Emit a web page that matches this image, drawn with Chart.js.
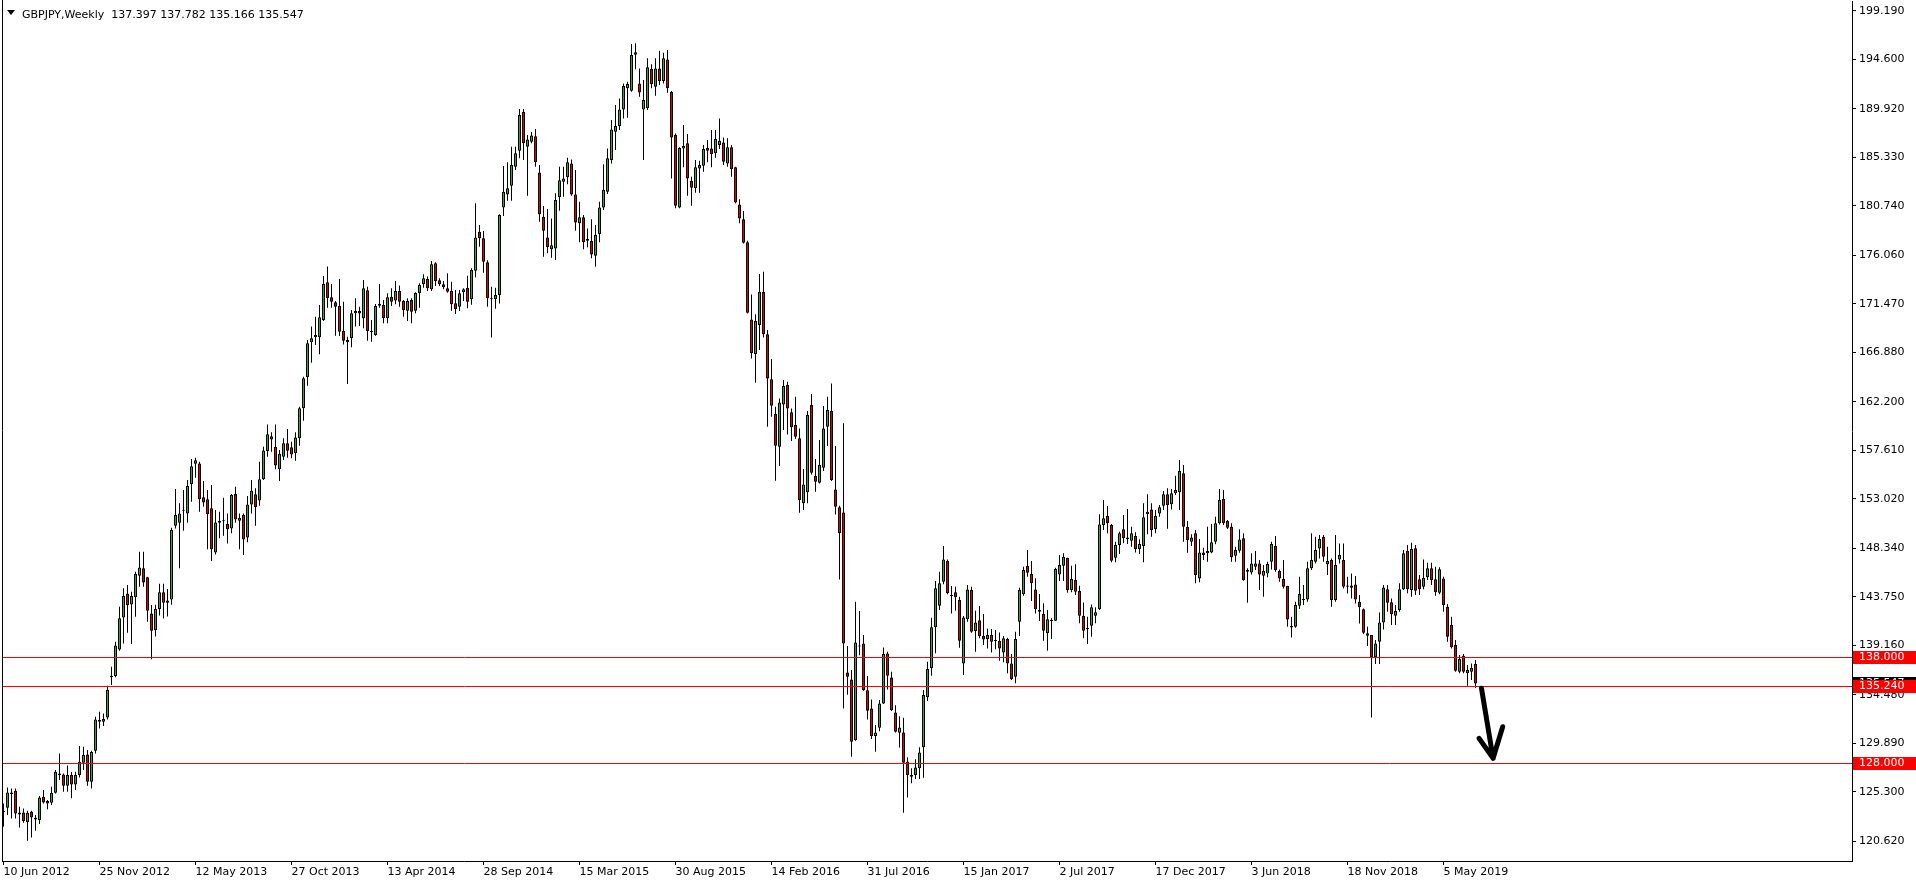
<!DOCTYPE html>
<html>
<head>
<meta charset="utf-8">
<title>GBPJPY, Weekly</title>
<script src="https://cdn.jsdelivr.net/npm/chart.js@4.4.1/dist/chart.umd.min.js"></script>
<style>
  html, body { margin: 0; padding: 0; background: #fff; }
  #wrap { width: 1916px; height: 884px; }
</style>
</head>
<body>
<div id="wrap"><canvas id="chart" width="1916" height="884"></canvas></div>
<script>
var symbol = 'GBPJPY';
var period = 'Weekly';

// weekly candles, first one is the week of 10 Jun 2012
var opens = [
  123.5, 123.8, 125.25, 125.41, 123.36, 123.36, 122.42, 123.42, 122.86, 122.64,
  124.84, 124.43, 124.28, 125.22, 126.89, 126.96, 125.89, 126.89, 126.01, 126.89,
  128.06, 128.85, 126.26, 129.2, 132.1, 131.94, 132.35, 136.14, 136.26, 138.78,
  141.81, 144.08, 143.04, 143.71, 145.76, 146.45, 145.6, 142.19, 140.6, 142.6,
  144.2, 143.2, 143.5, 150.49, 150.77, 151.9, 151.65, 154.4, 156.35, 156.38,
  153.17, 152.98, 152.13, 147.96, 150.77, 150.9, 150.64, 150.23, 153.48, 150.96,
  151.5, 149.38, 152.5, 153.45, 152.88, 154.87, 157.55, 158.94, 157.96, 155.82,
  157.02, 158.28, 157.9, 157.33, 158.75, 161.59, 164.52, 167.83, 168.31, 168.31,
  169.95, 173.51, 172.09, 171.62, 171.27, 168.9, 167.83, 168.21, 170.58, 170.8,
  170.1, 172.75, 168.9, 168.53, 171.3, 171.37, 170.1, 172.15, 171.78, 172.69,
  171.74, 170.83, 171.84, 170.83, 172.47, 173.32, 173.83, 172.85, 175.31, 173.7,
  173.32, 172.94, 172.69, 171.52, 171.21, 172.56, 173.0, 171.9, 174.61, 178.3,
  177.67, 175.4, 172.0, 171.9, 172.3, 180.6, 181.83, 182.65, 184.45, 185.96,
  189.62, 186.34, 186.81, 187.32, 183.91, 179.72, 177.76, 176.63, 176.72, 181.55,
  183.03, 183.44, 184.76, 181.83, 179.09, 179.66, 177.6, 177.42, 176.03, 178.08,
  180.6, 182.08, 185.08, 187.76, 188.3, 189.87, 191.86, 191.64, 195.27, 192.33,
  189.87, 189.97, 193.69, 192.02, 193.75, 192.55, 194.6, 191.51, 187.45, 180.6,
  186.18, 186.66, 183.09, 182.4, 184.29, 184.54, 186.21, 186.18, 185.71, 186.5,
  186.75, 184.76, 186.28, 184.39, 180.88, 179.47, 177.29, 170.0, 166.72, 169.47,
  172.6, 168.6, 164.33, 161.05, 157.96, 161.96, 163.79, 161.21, 160.01, 158.75,
  152.6, 153.64, 161.9, 155.18, 154.55, 155.97, 159.85, 161.33, 153.92, 152.22,
  151.74, 136.6, 135.94, 130.2, 139.15, 139.35, 134.93, 133.2, 130.58, 131.37,
  133.67, 138.4, 136.13, 132.82, 130.9, 130.93, 128.16, 126.9, 126.9, 127.53,
  129.52, 134.25, 136.99, 140.87, 142.92, 145.19, 147.18, 143.93, 144.18, 143.46,
  137.46, 141.63, 144.4, 140.52, 141.53, 140.05, 139.76, 140.14, 139.67, 139.57,
  138.5, 139.76, 137.46, 136.2, 141.4, 143.99, 146.67, 145.92, 144.46, 142.51,
  142.13, 140.3, 141.47, 141.5, 145.88, 146.7, 147.46, 144.4, 145.35, 144.31,
  141.94, 140.68, 141.03, 141.97, 142.57, 150.55, 151.4, 150.55, 147.46, 148.66,
  150.14, 149.38, 149.07, 149.51, 148.28, 148.56, 151.59, 152.03, 150.14, 151.65,
  152.38, 153.45, 152.51, 153.55, 153.64, 155.44, 150.39, 148.97, 149.76, 145.5,
  147.96, 147.87, 147.96, 148.97, 150.71, 153.01, 150.93, 150.39, 147.65, 148.12,
  149.29, 146.13, 146.07, 146.6, 146.92, 145.75, 145.97, 147.08, 148.56, 146.19,
  145.44, 144.77, 140.99, 140.93, 142.91, 143.45, 143.51, 146.45, 147.08, 148.34,
  149.44, 146.83, 147.24, 143.45, 147.3, 147.24, 144.84, 144.84, 144.93, 143.29,
  142.57, 140.3, 140.14, 138.03, 139.51, 141.34, 144.47, 143.24, 141.97, 142.51,
  144.47, 148.12, 144.4, 148.35, 145.41, 144.72, 145.6, 146.45, 145.41, 144.15,
  145.5, 142.83, 141.09, 139.2, 136.68, 138.19, 136.52, 136.68, 137.397
];
var highs = [
  124.2, 125.73, 125.63, 125.63, 123.9, 123.74, 123.52, 123.52, 123.11, 124.91,
  125.48, 124.53, 125.79, 127.37, 128.94, 127.05, 127.81, 127.18, 127.21, 129.64,
  129.57, 129.26, 129.2, 132.41, 132.89, 132.73, 135.35, 137.14, 139.51, 142.82,
  144.56, 144.87, 144.24, 146.13, 148.03, 148.03, 145.66, 142.98, 143.0, 145.0,
  145.0, 144.5, 150.3, 153.96, 152.6, 153.86, 154.81, 156.79, 156.92, 156.54,
  154.71, 153.86, 154.33, 151.97, 151.81, 153.13, 151.65, 153.48, 154.18, 151.65,
  151.65, 153.29, 154.81, 154.02, 156.54, 157.96, 160.07, 159.32, 160.07, 157.65,
  158.75, 159.63, 158.43, 159.32, 161.75, 164.58, 168.05, 169.32, 170.26, 171.37,
  174.11, 175.0, 173.35, 171.74, 173.83, 171.68, 168.37, 170.89, 172.0, 171.21,
  173.73, 173.1, 169.95, 171.46, 173.35, 171.84, 172.47, 172.94, 173.64, 173.2,
  171.84, 172.0, 172.0, 172.56, 173.42, 174.27, 174.05, 175.53, 175.4, 173.89,
  173.64, 174.36, 173.57, 172.79, 172.79, 172.94, 174.14, 174.85, 180.98, 178.93,
  178.36, 175.6, 173.1, 173.0, 179.95, 184.51, 184.86, 186.34, 186.34, 189.91,
  189.91, 187.45, 187.73, 188.01, 184.61, 180.73, 180.44, 179.56, 181.93, 184.45,
  184.45, 185.3, 185.14, 184.13, 181.14, 179.88, 178.61, 179.47, 178.93, 181.14,
  184.67, 186.18, 188.86, 190.28, 190.91, 192.33, 192.49, 196.06, 196.12, 193.75,
  192.65, 194.7, 194.13, 194.7, 195.42, 195.24, 195.49, 191.61, 187.6, 186.28,
  188.39, 187.54, 183.5, 185.08, 185.02, 186.5, 186.97, 187.92, 187.92, 189.02,
  187.22, 187.13, 186.5, 184.45, 181.36, 180.25, 177.45, 172.37, 170.48, 174.29,
  174.5, 169.0, 166.25, 161.74, 162.53, 164.27, 164.11, 161.58, 162.69, 159.69,
  155.84, 161.33, 162.94, 156.79, 158.59, 161.8, 162.69, 163.95, 158.02, 152.37,
  160.17, 139.1, 136.83, 143.29, 142.41, 140.14, 136.26, 134.05, 131.62, 133.99,
  138.97, 138.56, 136.67, 133.51, 132.47, 132.32, 128.57, 127.53, 128.38, 129.52,
  134.94, 137.62, 141.78, 145.25, 146.14, 148.56, 147.3, 144.78, 144.72, 143.77,
  141.94, 144.87, 144.72, 142.45, 142.89, 142.13, 140.77, 140.71, 140.62, 140.39,
  140.05, 139.89, 138.35, 140.46, 144.62, 146.61, 148.19, 147.14, 145.51, 144.02,
  143.14, 142.51, 141.72, 146.51, 147.71, 147.87, 147.46, 146.7, 146.83, 144.81,
  143.23, 141.88, 143.04, 142.76, 151.56, 152.92, 152.35, 150.65, 148.97, 149.92,
  151.5, 152.06, 150.39, 149.86, 149.2, 152.6, 153.45, 152.6, 151.97, 152.44,
  153.77, 154.02, 153.96, 155.22, 156.7, 156.23, 150.93, 149.67, 150.08, 149.23,
  148.41, 150.39, 150.65, 151.34, 153.96, 153.86, 151.02, 150.71, 148.5, 150.14,
  149.76, 146.45, 147.87, 148.09, 147.24, 146.76, 147.08, 148.97, 149.51, 146.35,
  147.24, 144.81, 141.87, 143.29, 145.66, 144.87, 147.08, 149.76, 149.44, 149.6,
  149.6, 148.5, 147.39, 149.6, 148.81, 148.81, 145.66, 145.97, 145.72, 143.92,
  142.66, 140.93, 140.14, 139.67, 142.28, 144.87, 144.88, 143.61, 142.98, 145.03,
  148.19, 148.66, 148.88, 148.66, 145.82, 147.3, 146.99, 146.99, 146.61, 146.55,
  145.66, 143.08, 141.88, 139.67, 138.25, 138.35, 137.31, 137.46, 137.782
];
var lows = [
  122.0, 123.11, 122.79, 122.79, 121.94, 122.38, 120.68, 121.0, 121.63, 122.26,
  124.21, 123.65, 124.06, 125.16, 126.42, 125.32, 125.32, 124.69, 125.48, 126.67,
  127.37, 125.89, 125.63, 128.94, 131.31, 131.53, 132.16, 135.41, 136.14, 138.66,
  139.35, 140.36, 139.29, 141.88, 144.71, 144.71, 141.4, 137.84, 140.0, 142.0,
  141.7, 141.9, 143.0, 150.23, 146.45, 150.01, 150.77, 152.76, 155.03, 151.81,
  152.28, 148.25, 147.14, 147.77, 149.29, 149.54, 148.81, 149.76, 150.77, 148.25,
  147.71, 148.91, 151.65, 150.49, 152.38, 154.81, 157.02, 157.49, 155.82, 154.71,
  156.7, 156.92, 156.86, 156.64, 158.06, 160.42, 163.73, 165.91, 167.58, 166.7,
  169.85, 171.11, 171.11, 168.46, 168.43, 167.64, 163.89, 167.36, 169.32, 169.38,
  169.16, 167.99, 167.9, 168.46, 171.11, 169.63, 169.63, 171.27, 171.43, 171.21,
  170.26, 169.85, 169.63, 170.58, 171.11, 173.0, 172.69, 172.69, 173.16, 173.16,
  172.85, 172.53, 170.83, 170.51, 170.8, 171.74, 171.05, 171.4, 174.0, 176.88,
  174.42, 171.2, 168.3, 171.0, 171.5, 179.78, 181.23, 181.23, 184.13, 185.24,
  185.08, 181.71, 186.66, 184.45, 179.24, 175.93, 176.25, 175.84, 175.62, 180.29,
  181.61, 182.78, 181.71, 178.39, 177.29, 176.63, 176.82, 175.78, 174.99, 177.29,
  180.35, 181.86, 184.76, 186.03, 187.92, 189.02, 189.08, 191.55, 193.66, 191.07,
  185.08, 189.81, 191.86, 191.17, 192.18, 192.33, 191.45, 183.34, 180.51, 180.51,
  184.39, 181.71, 180.76, 181.99, 181.99, 183.98, 184.86, 184.39, 185.3, 186.12,
  184.61, 184.45, 183.5, 180.98, 179.09, 177.19, 170.57, 166.31, 164.0, 167.1,
  168.3, 159.85, 160.8, 154.74, 156.13, 159.53, 159.12, 158.49, 158.68, 151.71,
  151.96, 152.6, 155.34, 153.7, 154.49, 155.65, 158.02, 154.71, 151.55, 145.4,
  133.2, 134.5, 128.63, 130.14, 138.24, 134.87, 132.16, 130.3, 129.1, 131.05,
  133.61, 135.0, 132.95, 130.93, 129.51, 123.33, 124.78, 126.11, 126.52, 126.52,
  126.64, 133.9, 136.3, 138.41, 142.51, 144.94, 143.99, 142.19, 142.45, 138.94,
  136.36, 141.4, 140.36, 138.57, 139.83, 139.2, 138.88, 138.5, 138.79, 137.71,
  137.56, 136.52, 135.89, 135.57, 140.05, 143.86, 145.66, 143.36, 142.19, 141.47,
  139.6, 138.66, 139.76, 141.47, 145.25, 145.25, 144.15, 144.18, 143.93, 141.25,
  139.83, 139.29, 139.98, 141.25, 142.51, 150.08, 149.76, 147.02, 147.02, 147.81,
  148.82, 148.75, 148.5, 147.96, 147.81, 147.02, 149.67, 149.45, 149.76, 151.34,
  151.97, 150.2, 152.03, 153.39, 151.97, 148.97, 147.93, 148.56, 145.03, 145.13,
  147.24, 147.08, 147.87, 148.72, 150.61, 150.55, 150.17, 147.08, 147.08, 147.93,
  145.28, 143.2, 145.88, 146.29, 144.4, 143.77, 145.6, 146.35, 146.13, 145.18,
  144.55, 140.93, 139.92, 140.83, 142.6, 142.98, 143.29, 146.29, 146.92, 147.39,
  147.08, 145.82, 142.82, 143.29, 146.92, 144.55, 144.08, 143.61, 143.13, 141.24,
  140.23, 139.1, 132.35, 137.4, 137.4, 140.67, 142.35, 141.09, 141.09, 142.35,
  144.4, 144.09, 143.77, 143.93, 143.93, 144.47, 145.35, 144.88, 143.87, 143.99,
  142.35, 139.51, 138.88, 136.68, 136.52, 136.52, 135.35, 135.89, 135.166
];
var closes = [
  123.4, 125.25, 125.1, 123.27, 123.17, 122.54, 123.33, 122.89, 122.7, 124.78,
  124.31, 124.21, 125.22, 127.21, 127.05, 125.89, 126.89, 126.01, 126.89, 128.16,
  128.79, 126.26, 129.07, 132.16, 131.94, 132.19, 134.94, 136.29, 139.16, 141.72,
  143.83, 142.95, 143.83, 145.91, 146.54, 145.12, 142.44, 140.55, 142.6, 144.2,
  143.2, 143.4, 150.08, 151.5, 151.65, 152.0, 154.24, 156.1, 156.67, 152.98,
  152.69, 151.56, 148.25, 150.8, 150.93, 151.0, 150.14, 153.39, 151.08, 151.24,
  149.19, 152.5, 153.8, 152.22, 154.87, 157.61, 159.13, 158.65, 156.19, 157.3,
  158.28, 157.58, 157.23, 158.84, 161.59, 164.43, 167.74, 168.21, 168.53, 170.2,
  173.35, 172.0, 171.68, 171.21, 168.84, 167.99, 168.05, 170.58, 170.8, 170.55,
  172.94, 168.9, 168.78, 171.27, 171.49, 170.1, 172.09, 171.68, 172.69, 171.68,
  170.89, 171.74, 170.73, 172.5, 173.26, 173.89, 172.94, 175.21, 173.64, 173.32,
  173.04, 172.63, 171.43, 170.96, 172.47, 172.85, 171.68, 174.67, 177.76, 177.67,
  175.46, 172.0, 171.9, 172.3, 179.88, 182.08, 182.4, 184.61, 185.71, 189.34,
  186.66, 187.03, 187.41, 184.86, 179.94, 178.39, 176.82, 177.01, 181.29, 183.16,
  183.34, 184.86, 181.83, 179.18, 179.66, 177.29, 177.45, 176.15, 177.98, 180.6,
  182.24, 185.24, 187.98, 188.3, 189.87, 192.08, 192.27, 195.01, 195.05, 191.48,
  190.76, 193.85, 192.24, 193.75, 192.55, 194.7, 191.86, 187.22, 180.76, 186.21,
  186.4, 183.34, 182.46, 184.39, 184.61, 186.12, 185.96, 185.62, 187.07, 186.91,
  184.92, 186.28, 184.2, 181.07, 179.56, 177.26, 170.63, 166.79, 169.85, 172.62,
  168.6, 164.42, 161.84, 158.05, 162.15, 163.7, 161.58, 159.79, 158.9, 152.91,
  154.39, 160.95, 155.5, 154.65, 156.22, 159.69, 161.43, 154.8, 152.28, 149.76,
  139.35, 136.19, 130.04, 139.44, 139.05, 134.93, 132.98, 130.58, 130.93, 133.67,
  138.34, 136.29, 133.04, 130.99, 131.4, 128.06, 126.9, 126.74, 127.62, 129.04,
  134.47, 136.93, 140.87, 144.56, 145.03, 147.3, 144.09, 143.83, 143.71, 139.6,
  141.81, 144.46, 140.46, 141.34, 140.05, 139.73, 140.14, 139.51, 139.57, 138.88,
  139.83, 137.46, 135.95, 139.76, 144.4, 146.29, 146.04, 145.03, 142.57, 142.35,
  140.55, 141.63, 141.56, 146.39, 146.77, 147.56, 144.4, 145.44, 144.24, 141.97,
  140.55, 140.84, 142.76, 142.29, 150.61, 151.18, 150.71, 147.18, 148.66, 149.76,
  149.29, 149.2, 149.76, 148.25, 148.75, 151.28, 151.81, 150.08, 151.4, 152.22,
  153.45, 152.44, 153.55, 153.86, 155.66, 150.39, 149.13, 149.38, 145.82, 147.96,
  147.71, 148.09, 148.91, 150.71, 152.92, 150.71, 150.3, 147.49, 148.19, 149.19,
  145.34, 146.29, 146.92, 146.92, 145.88, 146.19, 146.86, 148.75, 146.29, 145.5,
  144.71, 141.62, 140.86, 142.98, 144.02, 143.54, 146.45, 147.24, 148.18, 149.22,
  147.55, 147.14, 143.45, 146.76, 147.71, 144.71, 144.71, 144.62, 143.51, 142.76,
  140.36, 140.08, 138.03, 139.35, 141.34, 144.65, 143.2, 142.1, 142.42, 144.47,
  147.87, 144.47, 148.28, 144.34, 144.47, 145.57, 146.45, 145.35, 144.18, 146.36,
  142.98, 139.99, 138.98, 136.77, 137.87, 136.68, 136.83, 137.05, 135.547
];

// time axis: candle index and its label
var dateTicks = [0, 24, 48, 72, 96, 120, 144, 168, 192, 216, 240, 264, 288, 312, 336, 360];
var dateLabels = ['10 Jun 2012', '25 Nov 2012', '12 May 2013', '27 Oct 2013', '13 Apr 2014',
  '28 Sep 2014', '15 Mar 2015', '30 Aug 2015', '14 Feb 2016', '31 Jul 2016', '15 Jan 2017',
  '2 Jul 2017', '17 Dec 2017', '3 Jun 2018', '18 Nov 2018', '5 May 2019'];

// price axis
var priceTicks = [199.19, 194.60, 189.92, 185.33, 180.74, 176.06, 171.47, 166.88, 162.20,
  157.61, 153.02, 148.34, 143.75, 139.16, 134.48, 129.89, 125.30, 120.62];

// horizontal levels drawn on the chart
var levelPrices = [138.000, 135.240, 128.000];

// hand drawn arrow, [candle index, price]
var arrowShaft = [[369.5, 135.1], [372.4, 128.48]];
var arrowHead = [[368.9, 130.37], [372.4, 128.48], [374.8, 131.47]];

var bodies = [];
var wicks = [];
var bodyColors = [];
for (var i = 0; i < opens.length; i++) {
  bodies.push({ x: i, y: [opens[i], closes[i]] });
  wicks.push({ x: i, y: [lows[i], highs[i]] });
  bodyColors.push(closes[i] >= opens[i] ? '#33a833' : '#e00000');
}
var last = opens.length - 1;

Chart.defaults.font.family = 'DejaVu Sans';
Chart.defaults.font.size = 11;
Chart.defaults.color = '#000';

// lines, labels on the price axis, arrow and title
var overlay = {
  id: 'overlay',
  afterDatasetsDraw: function(chart) {
    var ctx = chart.ctx;
    var area = chart.chartArea;
    var xs = chart.scales.x;
    var ys = chart.scales.y;
    ctx.save();
    ctx.strokeStyle = '#ff0000';
    ctx.lineWidth = 1;
    levelPrices.forEach(function(p) {
      var y = Math.floor(ys.getPixelForValue(p)) + 0.5;
      ctx.beginPath();
      ctx.moveTo(area.left, y);
      ctx.lineTo(area.right, y);
      ctx.stroke();
    });

    ctx.strokeStyle = '#000';
    ctx.lineWidth = 5;
    ctx.lineCap = 'round';
    ctx.lineJoin = 'round';
    ctx.beginPath();
    ctx.moveTo(xs.getPixelForValue(arrowShaft[0][0]), ys.getPixelForValue(arrowShaft[0][1]));
    ctx.lineTo(xs.getPixelForValue(arrowShaft[1][0]), ys.getPixelForValue(arrowShaft[1][1]));
    ctx.moveTo(xs.getPixelForValue(arrowHead[0][0]), ys.getPixelForValue(arrowHead[0][1]));
    for (var k = 1; k < arrowHead.length; k++) {
      ctx.lineTo(xs.getPixelForValue(arrowHead[k][0]), ys.getPixelForValue(arrowHead[k][1]));
    }
    ctx.stroke();
    ctx.restore();
  },
  afterDraw: function(chart) {
    var ctx = chart.ctx;
    var area = chart.chartArea;
    var ys = chart.scales.y;
    ctx.save();
    ctx.font = '11px "DejaVu Sans"';
    ctx.textBaseline = 'middle';
    ctx.textAlign = 'left';

    function priceBox(p, bg) {
      var y = Math.floor(ys.getPixelForValue(p));
      ctx.fillStyle = bg;
      ctx.fillRect(area.right + 1, y - 6, chart.width - area.right - 1, 13);
      ctx.fillStyle = '#fff';
      ctx.fillText(p.toFixed(3), area.right + 7, y + 0.5);
    }
    // current price first, the level labels sit over it
    priceBox(closes[last], '#000');
    levelPrices.forEach(function(p) { priceBox(p, '#ff0000'); });

    // left frame line
    ctx.strokeStyle = '#000';
    ctx.lineWidth = 1;
    ctx.beginPath();
    ctx.moveTo(area.left + 0.5, 0);
    ctx.lineTo(area.left + 0.5, area.bottom);
    ctx.stroke();

    // title
    ctx.fillStyle = '#000';
    ctx.beginPath();
    ctx.moveTo(7, 10);
    ctx.lineTo(15, 10);
    ctx.lineTo(11, 15);
    ctx.closePath();
    ctx.fill();
    ctx.textBaseline = 'alphabetic';
    var title = symbol + ',' + period + '  ' + opens[last].toFixed(3) + ' ' + highs[last].toFixed(3) +
      ' ' + lows[last].toFixed(3) + ' ' + closes[last].toFixed(3);
    ctx.fillText(title, 22, 18);
    ctx.restore();
  }
};

var ctx = document.getElementById('chart').getContext('2d');
var chart = new Chart(ctx, {
  type: 'bar',
  data: {
    datasets: [{
      label: 'body',
      data: bodies,
      order: 0,
      backgroundColor: bodyColors,
      borderColor: '#000',
      borderWidth: 1,
      borderSkipped: false,
      barThickness: 3,
      minBarLength: 1,
      inflateAmount: 0,
      grouped: false
    }, {
      label: 'wick',
      data: wicks,
      order: 1,
      backgroundColor: '#000',
      borderWidth: 0,
      barThickness: 1,
      inflateAmount: 0,
      grouped: false
    }]
  },
  options: {
    responsive: false,
    animation: false,
    devicePixelRatio: 1,
    layout: { padding: { left: 2, top: 1, right: 0, bottom: 0 } },
    plugins: {
      legend: { display: false },
      tooltip: { enabled: false }
    },
    scales: {
      x: {
        type: 'linear',
        offset: false,
        min: -0.375,
        max: 462.125,
        grid: { offset: false, drawOnChartArea: false, drawTicks: true, tickLength: 4, color: '#000' },
        border: { display: true, color: '#000' },
        ticks: {
          autoSkip: false,
          maxRotation: 0,
          align: 'start',
          padding: 1,
          callback: function(value, index) { return dateLabels[index]; }
        },
        afterBuildTicks: function(scale) {
          scale.ticks = dateTicks.map(function(v) { return { value: v }; });
        },
        afterFit: function(scale) {
          scale.height = 23;
          scale.paddingLeft = 0;
          scale.paddingRight = 0;
        }
      },
      y: {
        type: 'linear',
        position: 'right',
        min: 118.765,
        max: 200.125,
        grid: { drawOnChartArea: false, drawTicks: true, tickLength: 4, color: '#000' },
        border: { display: true, color: '#000' },
        ticks: {
          padding: 3,
          callback: function(value) { return value.toFixed(3); }
        },
        afterBuildTicks: function(scale) {
          scale.ticks = priceTicks.map(function(v) { return { value: v }; });
        },
        afterFit: function(scale) {
          scale.width = 64;
          scale.paddingTop = 0;
          scale.paddingBottom = 0;
        }
      }
    }
  },
  plugins: [overlay]
});
</script>
</body>
</html>
